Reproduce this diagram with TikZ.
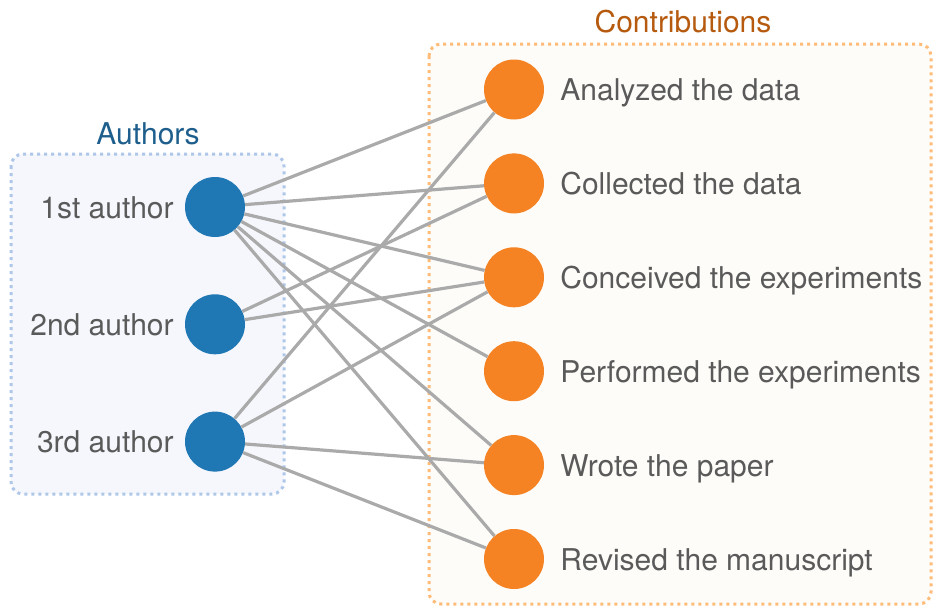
\documentclass[tikz,border=0pt]{standalone}
\usepackage{fontspec}
\setmainfont{TeX Gyre Heros}
\usetikzlibrary{positioning}
\definecolor{authorblue}{HTML}{1F77B4}
\definecolor{taskorange}{HTML}{F58223}
\definecolor{linkgray}{HTML}{AAAAAA}
\definecolor{textgray}{HTML}{5A5A5A}
\definecolor{authordark}{HTML}{1D5E8C}
\definecolor{taskdark}{HTML}{B55A0E}
\definecolor{authorline}{HTML}{AEC7E8}
\definecolor{authorfill}{HTML}{F5F7FC}
\definecolor{taskline}{HTML}{FFBB78}
\definecolor{taskfill}{HTML}{FDFCF8}
\tikzstyle{author}=[circle,fill=authorblue,inner sep=0pt,minimum size=60pt]
\tikzstyle{task}=[circle,fill=taskorange,inner sep=0pt,minimum size=60pt]
\tikzstyle{authortext}=[anchor=base east,text=textgray,inner sep=0pt]
\tikzstyle{tasktext}=[anchor=base west,text=textgray,inner sep=0pt]
\tikzstyle{link}=[linkgray,line width=3.2pt]
\tikzstyle{group}=[rounded corners=12pt,line width=3pt,dash pattern=on 3pt off 4pt]

\begin{document}
\begin{tikzpicture}[x=1pt, y=-1pt, node distance=117.3pt, on grid,
    font=\fontsize{30}{36}\selectfont]
  \useasboundingbox (0,0) rectangle (934,608);

  \draw[group, draw=authorline, fill=authorfill] (11,154) rectangle (284,494);
  \draw[group, draw=taskline, fill=taskfill] (429,44) rectangle (931,604);
  \node[anchor=base, text=authordark, inner sep=0pt] (authors) at (148,144) {Authors};
  \node[anchor=base, text=taskdark, inner sep=0pt] (contrib) at (683,32) {Contributions};

  \node[author] (a1) at (215,207) {};
  \node[author, below=of a1] (a2) {};
  \node[author, below=of a2] (a3) {};

  \node[task] (c1) at (514,89.5) {};
  \node[task, below=93.9pt of c1] (c2) {};
  \node[task, below=93.9pt of c2] (c3) {};
  \node[task, below=93.9pt of c3] (c4) {};
  \node[task, below=93.9pt of c4] (c5) {};
  \node[task, below=93.9pt of c5] (c6) {};

  \node[authortext] (l1) at ([xshift=-11pt, yshift=-11pt]a1.west) {1st author};
  \node[authortext] (l2) at ([xshift=-11pt, yshift=-11pt]a2.west) {2nd author};
  \node[authortext] (l3) at ([xshift=-11pt, yshift=-11pt]a3.west) {3rd author};

  \node[tasktext] (t1) at ([xshift=16pt, yshift=-11pt]c1.east) {Analyzed the data};
  \node[tasktext] (t2) at ([xshift=16pt, yshift=-11pt]c2.east) {Collected the data};
  \node[tasktext] (t3) at ([xshift=16pt, yshift=-11pt]c3.east) {Conceived the experiments};
  \node[tasktext] (t4) at ([xshift=16pt, yshift=-11pt]c4.east) {Performed the experiments};
  \node[tasktext] (t5) at ([xshift=16pt, yshift=-11pt]c5.east) {Wrote the paper};
  \node[tasktext] (t6) at ([xshift=16pt, yshift=-11pt]c6.east) {Revised the manuscript};

  \foreach \c in {1,...,6}
    \draw[link] (a1) -- (c\c);
  \draw[link] (a2) -- (c2) (a2) -- (c3);
  \draw[link] (a3) -- (c1) (a3) -- (c3) (a3) -- (c5) (a3) -- (c6);
\end{tikzpicture}
\end{document}
